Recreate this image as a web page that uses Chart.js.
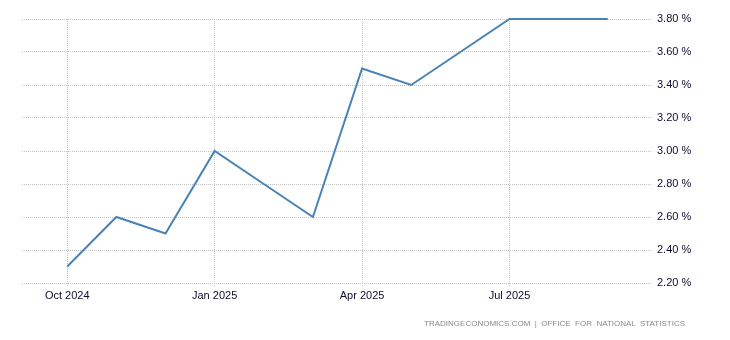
<!DOCTYPE html>
<html>
<head>
<meta charset="utf-8">
<script src="https://cdn.jsdelivr.net/npm/chart.js@4/dist/chart.umd.min.js"></script>
<style>
  html, body { margin: 0; padding: 0; background: #fff; }
  #wrap { position: relative; width: 730px; height: 340px; }
  #credit {
    position: absolute; right: 45px; top: 319px;
    font: 8px "Liberation Sans", Arial, sans-serif;
    color: #8a8a8a; white-space: pre;
  }
</style>
</head>
<body>
<div id="wrap">
  <canvas id="chart" width="730" height="340"></canvas>
  <div id="credit">TRADINGECONOMICS.COM  |  OFFICE  FOR  NATIONAL  STATISTICS</div>
</div>
<script>
// monthly readings, Oct 2024 .. Sep 2025
var months = ['Oct 2024', 'Nov 2024', 'Dec 2024', 'Jan 2025', 'Feb 2025', 'Mar 2025',
              'Apr 2025', 'May 2025', 'Jun 2025', 'Jul 2025', 'Aug 2025', 'Sep 2025'];
var rates = [2.3, 2.6, 2.5, 3.0, 2.8, 2.6, 3.5, 3.4, 3.6, 3.8, 3.8, 3.8];
var xTicks = [0, 3, 6, 9];
var tickLabels = ['Oct 2024', 'Jan 2025', 'Apr 2025', 'Jul 2025'];
var yTicks = [2.2, 2.4, 2.6, 2.8, 3.0, 3.2, 3.4, 3.6, 3.8];

var points = rates.map(function(v, i) {
    return {x: i, y: v};
});

var gridColor = '#c4c4c4';
var labelFont = {family: '"Liberation Sans", Arial, sans-serif', size: 11};

new Chart(document.getElementById('chart').getContext('2d'), {
    type: 'line',
    data: {
        datasets: [{
            label: 'Rate',
            data: points,
            borderColor: '#4a82b6',
            borderWidth: 2,
            pointRadius: 0,
            tension: 0,
            clip: false
        }]
    },
    options: {
        responsive: false,
        animation: false,
        layout: {padding: {left: 22, top: 19, right: 0, bottom: 0}},
        plugins: {
            legend: {display: false},
            tooltip: {enabled: false}
        },
        scales: {
            x: {
                type: 'linear',
                min: -0.92,
                max: 11.9,
                afterBuildTicks: function(scale) {
                    scale.ticks = xTicks.map(function(v) {
                        return {value: v};
                    });
                },
                afterFit: function(scale) {
                    scale.height = 57;
                },
                border: {display: false, dash: [1, 1]},
                grid: {
                    color: gridColor,
                    tickColor: gridColor,
                    tickLength: 4,
                    tickBorderDash: [1, 1]
                },
                ticks: {
                    autoSkip: false,
                    maxRotation: 0,
                    padding: 2,
                    color: '#0d0d2e',
                    font: labelFont,
                    callback: function(v) {
                        var i = xTicks.indexOf(v);
                        return i >= 0 ? tickLabels[i] : '';
                    }
                }
            },
            y: {
                position: 'right',
                min: 2.2,
                max: 3.8,
                afterBuildTicks: function(scale) {
                    scale.ticks = yTicks.map(function(v) {
                        return {value: v};
                    });
                },
                afterFit: function(scale) {
                    scale.width = 78;
                },
                border: {display: false, dash: [1, 1]},
                grid: {
                    color: gridColor,
                    drawTicks: false
                },
                ticks: {
                    padding: 5,
                    color: '#0d0d2e',
                    font: labelFont,
                    callback: function(v) {
                        return v.toFixed(2) + ' %';
                    }
                }
            }
        }
    }
});
</script>
</body>
</html>
